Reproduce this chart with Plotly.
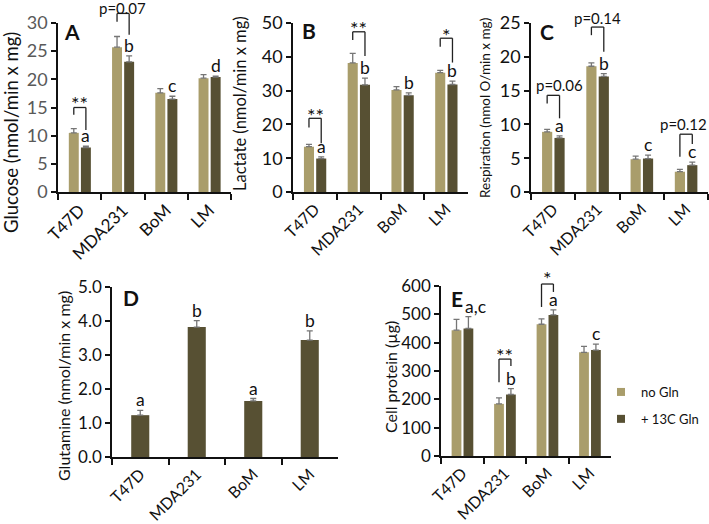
import plotly.graph_objects as go

# ---------------- data ----------------
cats = ["T47D", "MDA231", "BoM", "LM"]

glc_no = [10.5, 25.7, 17.6, 20.2]
glc_no_err = [0.75, 1.9, 0.75, 0.65]
glc_c13 = [7.9, 23.1, 16.5, 20.4]
glc_c13_err = [0.25, 1.05, 0.5, 0.15]
glc_letters = ["a", "b", "c", "d"]

lac_no = [13.4, 38.2, 30.2, 35.3]
lac_no_err = [0.7, 2.8, 1.0, 0.7]
lac_c13 = [9.9, 31.7, 28.6, 31.8]
lac_c13_err = [0.5, 2.0, 0.7, 1.0]
lac_letters = ["a", "b", "b", "b"]

resp_no = [8.9, 18.6, 4.85, 3.0]
resp_no_err = [0.35, 0.5, 0.45, 0.35]
resp_c13 = [8.0, 17.1, 4.95, 3.97]
resp_c13_err = [0.3, 0.4, 0.5, 0.45]
resp_letters = ["a", "b", "c", "c"]

gln_c13 = [1.23, 3.82, 1.65, 3.44]
gln_c13_err = [0.14, 0.19, 0.07, 0.27]
gln_letters = ["a", "b", "a", "b"]

prot_no = [444, 184, 465, 366]
prot_no_err = [38, 21, 19, 21]
prot_c13 = [450, 217, 498, 374]
prot_c13_err = [42, 21, 18, 21]
prot_letters = ["a,c", "b", "a", "c"]

series_names = ["no Gln", "+ 13C Gln"]

# ---------------- style ----------------
W, H = 709, 524
LIGHT = "#A99D6B"
DARK = "#575033"
ERRC = "#767676"
FONT = "Lato"
BW = 0.23           # bar width (category units)
OFF_L, OFF_D = -0.25, 0.03
CL, CD = OFF_L + BW / 2, OFF_D + BW / 2   # bar centre offsets

def px_dom(x0, x1):
    return [x0 / W, x1 / W]

def py_dom(ytop, ybot):
    return [1 - ybot / H, 1 - ytop / H]

panels = {
    "A": dict(x=px_dom(58, 231), y=py_dom(23, 192), rng=30, dtick=5, fmt="d",
              title="Glucose (nmol/min x mg)", tfs=18.5, tcx=11, tcy=133, tickfs=18,
              tickcol="#595959", xfs=17),
    "B": dict(x=px_dom(293, 468), y=py_dom(23, 192), rng=50, dtick=10, fmt="d",
              title="Lactate (nmol/min x mg)", tfs=16.5, tcx=240, tcy=103, tickfs=18,
              tickcol="#111111", xfs=16),
    "C": dict(x=px_dom(531, 708), y=py_dom(23, 192), rng=25, dtick=5, fmt="d",
              title="Respiration (nmol O/min x mg)", tfs=13.5, tcx=485, tcy=108, tickfs=18,
              tickcol="#111111", xfs=16),
    "D": dict(x=px_dom(112, 338), y=py_dom(287, 457), rng=5, dtick=1, fmt=".1f",
              title="Glutamine (nmol/min x mg)", tfs=16, tcx=63, tcy=386, tickfs=17,
              tickcol="#111111", xfs=16),
    "E": dict(x=px_dom(441, 611), y=py_dom(286, 456), rng=600, dtick=100, fmt="d",
              title="Cell protein (µg)", tfs=16, tcx=390, tcy=377, tickfs=17,
              tickcol="#111111", xfs=16),
}
order = ["A", "B", "C", "D", "E"]

fig = go.Figure()

def axis_ids(i):
    return ("x" if i == 0 else f"x{i+1}", "y" if i == 0 else f"y{i+1}")

def add_bar(i, vals, errs, color, name, offset, width):
    xa, ya = axis_ids(i)
    fig.add_trace(go.Bar(
        x=cats, y=vals, name=name, marker=dict(color=color, line=dict(width=0)),
        width=width, offset=offset,
        error_y=dict(type="data", array=errs, arrayminus=[0] * len(errs), symmetric=False,
                     color=ERRC, thickness=1.3, width=3),
        xaxis=xa, yaxis=ya, showlegend=False, legendgroup=name,
        hoverinfo="skip"))

datasets = [
    (glc_no, glc_no_err, glc_c13, glc_c13_err, glc_letters),
    (lac_no, lac_no_err, lac_c13, lac_c13_err, lac_letters),
    (resp_no, resp_no_err, resp_c13, resp_c13_err, resp_letters),
    (None, None, gln_c13, gln_c13_err, gln_letters),
    (prot_no, prot_no_err, prot_c13, prot_c13_err, prot_letters),
]

annotations = []
shapes = []

for i, key in enumerate(order):
    p = panels[key]
    no, no_e, c13, c13_e, letters = datasets[i]
    xa, ya = axis_ids(i)
    if no is not None:
        add_bar(i, no, no_e, LIGHT, series_names[0], OFF_L, BW)
        add_bar(i, c13, c13_e, DARK, series_names[1], OFF_D, BW)
        xoff = CD
    else:
        add_bar(i, c13, c13_e, DARK, series_names[1], -0.16, 0.32)
        xoff = 0.0
    # letters above dark bars
    for j, (v, e, t) in enumerate(zip(c13, c13_e, letters)):
        xo = xoff + (0.165 if t == "a,c" else 0)
        annotations.append(dict(x=j + xo, y=v + e, xref=xa, yref=ya, text=t,
                                showarrow=False, xanchor="center", yanchor="bottom", yshift=-1,
                                borderpad=0,
                                font=dict(family=FONT, size=17.5, color="#111111")))
    # axes
    axk = "xaxis" if i == 0 else f"xaxis{i+1}"
    ayk = "yaxis" if i == 0 else f"yaxis{i+1}"
    fig.update_layout(**{
        axk: dict(domain=p["x"], anchor=ya, type="category", range=[-0.5, 3.5],
                  automargin=False,
                  showline=True, linecolor="#111111", linewidth=1.5,
                  ticks="outside", tickson="boundaries", ticklen=6, tickwidth=1.5,
                  tickcolor="#111111", tickangle=-45,
                  tickfont=dict(family=FONT, size=p["xfs"], color="#111111"),
                  showgrid=False, zeroline=False, fixedrange=True),
        ayk: dict(domain=p["y"], anchor=xa, range=[0, p["rng"]], dtick=p["dtick"],
                  automargin=False,
                  tickformat=p["fmt"], showline=True, linecolor="#111111", linewidth=1.5,
                  ticks="outside", ticklen=5, tickwidth=1.5, tickcolor="#111111",
                  tickfont=dict(family=FONT, size=p["tickfs"], color=p["tickcol"]),
                  showgrid=False, zeroline=False, fixedrange=True),
    })
    # y-axis title as rotated annotation
    annotations.append(dict(x=p["tcx"] / W, y=1 - p["tcy"] / H, xref="paper", yref="paper",
                            text=p["title"], textangle=-90, showarrow=False,
                            xanchor="center", yanchor="middle", borderpad=0,
                            font=dict(family=FONT, size=p["tfs"], color="#111111")))

# legend entries (small square keys, as in the original)
for name, color in zip(series_names, [LIGHT, DARK]):
    fig.add_trace(go.Scatter(x=[None], y=[None], mode="markers", name=name,
                             marker=dict(symbol="square", size=8, color=color),
                             xaxis="x5", yaxis="y5", legendgroup=name, showlegend=True,
                             hoverinfo="skip"))

# panel letters (paper px positions: left x, centre y)
panel_letter_pos = {"A": (63, 32), "B": (301, 30), "C": (539, 32), "D": (122, 297), "E": (450, 298)}
for key, (lx, ly) in panel_letter_pos.items():
    annotations.append(dict(x=lx / W, y=1 - ly / H, xref="paper", yref="paper", text=f"<b>{key}</b>",
                            showarrow=False, xanchor="left", yanchor="middle", borderpad=0,
                            font=dict(family=FONT, size=21, color="#111111")))

# significance brackets: (panel index, category index, y_top, y_left, y_right, label, label_y, label_xoff)
brackets = [
    (0, 0, 15.0, 13.7, 11.0, "**", 16.3, None),
    (0, 1, 31.7, 30.2, 27.9, "p=0.07", 32.7, 0.0),
    (1, 0, 21.8, 19.1, 14.4, "**", 23.8, None),
    (1, 1, 47.4, 45.0, 40.2, "**", 49.4, None),
    (1, 3, 45.5, 43.0, 38.3, "*", 47.4, None),
    (2, 0, 14.3, 13.1, 10.9, "p=0.06", 15.8, 0.15),
    (2, 1, 24.4, 23.2, 20.75, "p=0.14", 25.7, 0.0),
    (2, 3, 8.55, 5.2, 7.1, "p=0.12", 10.1, -0.06),
]
brackets += [
    (4, 1, 342, 260, 318, "**", 368, None),
    (4, 2, 607, 526, 579, "*", 639, None),
]

for (pi, ci, yt, yl, yr, lab, laby, lxo) in brackets:
    key = order[pi]
    rng = panels[key]["rng"]
    xa, ya = axis_ids(pi)
    xd = f"{xa} domain"
    yd = f"{ya} domain"
    xl = (ci + 0.5 + CL) / 4
    xr = (ci + 0.5 + CD) / 4
    for (x0, y0, x1, y1) in [(xl, yl, xl, yt), (xl, yt, xr, yt), (xr, yt, xr, yr)]:
        shapes.append(dict(type="line", xref=xd, yref=yd, x0=x0, x1=x1,
                           y0=y0 / rng, y1=y1 / rng, line=dict(color="#222222", width=1.3)))
    if lab.startswith("p"):
        annotations.append(dict(x=(ci + 0.5 + lxo) / 4, y=laby / rng, xref=xd, yref=yd, text=lab,
                                showarrow=False, xanchor="center", yanchor="middle", borderpad=0,
                                font=dict(family=FONT, size=15, color="#111111")))
    else:
        annotations.append(dict(x=(ci + 0.5 + (CL + CD) / 2) / 4, y=laby / rng, xref=xd, yref=yd,
                                text=lab, showarrow=False, xanchor="center", yanchor="middle",
                                yshift=-3, borderpad=0,
                                font=dict(family=FONT, size=20, color="#111111")))

fig.update_layout(
    template="none",
    width=W, height=H, margin=dict(l=0, r=0, t=0, b=0, autoexpand=False),
    paper_bgcolor="white", plot_bgcolor="white",
    barmode="overlay", showlegend=True,
    legend=dict(x=601 / W, y=1 - 377 / H, xanchor="left", yanchor="top",
                font=dict(family=FONT, size=13, color="#111111"),
                tracegroupgap=7, bgcolor="rgba(0,0,0,0)"),
    annotations=annotations, shapes=shapes,
    font=dict(family=FONT),
)

fig.write_html("out.html", config={"displayModeBar": False},
               post_script="document.body.style.margin='0';document.body.style.overflow='hidden';")
